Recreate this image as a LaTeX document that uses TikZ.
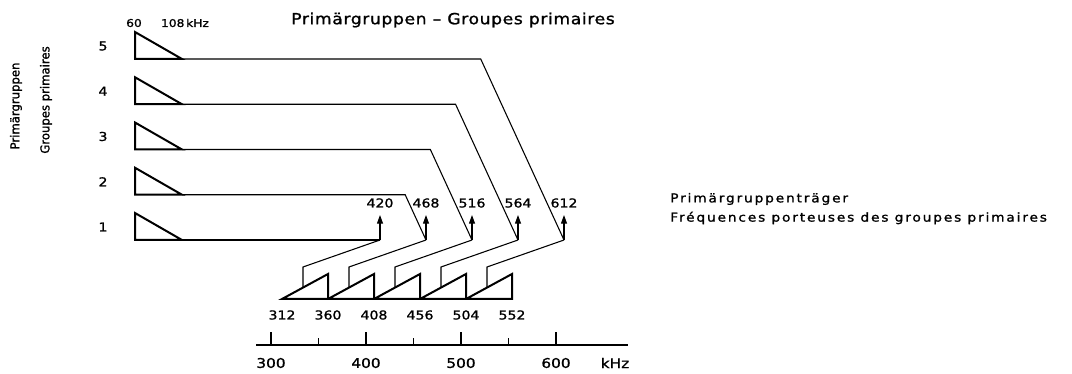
\documentclass[tikz,border=0pt]{standalone}
\usepackage{fontspec}
\setmainfont[FakeStretch=1.15,FakeBold=1.2]{DejaVu Sans}
\newfontfamily\notefont[FakeStretch=1.12,LetterSpace=15,FakeBold=1.2]{DejaVu Sans}
\newfontfamily\headfont[FakeStretch=1.12,LetterSpace=4,FakeBold=1.2]{DejaVu Sans}
\newfontfamily\sidefont[FakeStretch=0.95,FakeBold=1.2]{DejaVu Sans}
\usetikzlibrary{arrows.meta,calc}
\begin{document}
\begin{tikzpicture}[x=0.75pt,y=-0.75pt,
  band/.style={line width=1.5pt,line join=miter},
  conn/.style={line width=0.8pt},
  axisline/.style={line width=1.1pt},
  lbl/.style={inner sep=0pt,font=\fontsize{9.2pt}{11pt}\selectfont},
  axlbl/.style={inner sep=0pt,font=\fontsize{10pt}{12pt}\selectfont},
  small/.style={inner sep=0pt,font=\fontsize{8pt}{10pt}\selectfont},
  side/.style={inner sep=0pt,rotate=90,font=\sidefont\fontsize{9.2pt}{11pt}\selectfont},
  note/.style={inner sep=0pt,anchor=west,font=\notefont\fontsize{9.2pt}{11pt}\selectfont},
  title/.style={inner sep=0pt,font=\headfont\fontsize{11.5pt}{13pt}\selectfont},
  carrier/.style={conn,-{Triangle[length=6.5pt,width=4.5pt]}}]
\useasboundingbox (0,0) rectangle (1072,374);

% headings
\node[title] (head) at (453,20) {Primärgruppen – Groupes primaires};
\node[small] (f60) at (134,23) {60};
\node[small] (f108) at (185,23) {108\,kHz};
\node[side] (vl1) at (16,106) {Primärgruppen};
\node[side] (vl2) at (46,100) {Groupes primaires};
\node[note] (r1) at (670,199) {Primärgruppenträger};
\node[note] (r2) at (670,218) {Fréquences porteuses des groupes primaires};

% primary groups, carriers and modulated bands
\foreach \i in {1,...,5} {
  \pgfmathsetmacro\yb{240-45.25*(\i-1)}
  \pgfmathsetmacro\xa{380+46*(\i-1)}
  \pgfmathsetmacro\xs{282+46*(\i-1)}
  \pgfmathtruncatemacro\fc{420+48*(\i-1)}
  % group triangle
  \coordinate (gt\i) at (135,\yb-27);
  \coordinate (gl\i) at (135,\yb);
  \coordinate (gb\i) at (182,\yb);
  \draw[band] (gt\i) -- (gl\i) -- (gb\i) -- cycle;
  \node[lbl] (n\i) at (103,\yb-13) {\i};
  % carrier
  \coordinate (k\i) at ({\xa-0.46*(240-\yb)},\yb);
  \coordinate (c\i) at (\xa,240);
  \coordinate (t\i) at (\xa,215);
  \draw[conn] (gb\i) -- (k\i) -- (c\i);
  \draw[carrier] (c\i) -- (t\i);
  \node[lbl] (fc\i) at (\xa,203) {\fc};
  % modulated band
  \coordinate (s\i) at (\xs,299);
  \coordinate (h\i) at (\xs+46,274);
  \coordinate (e\i) at (\xs+46,299);
  \coordinate (m\i) at (\xa-77,267);
  \draw[band] (s\i) -- (h\i) -- (e\i) -- cycle;
  \draw[conn] (c\i) -- (m\i) -- ($(s\i)!21/46!(h\i)$);
}

% band edge frequencies
\foreach \j in {0,...,5} {
  \pgfmathtruncatemacro\fb{312+48*\j}
  \node[lbl] (b\j) at (282+46*\j,315) {\fb};
}

% frequency axis
\coordinate (ax0) at (256,345);
\coordinate (ax1) at (628,345);
\draw[axisline] (ax0) -- (ax1);
\foreach \k/\v in {0/300,1/400,2/500,3/600} {
  \draw[axisline] (271+95*\k,345) -- (271+95*\k,332);
  \node[axlbl] (a\v) at (271+95*\k,363) {\v};
}
\foreach \k in {0,1,2} {
  \draw[axisline] (318.5+95*\k,345) -- (318.5+95*\k,338);
}
\node[axlbl] (khz) at (615,363) {kHz};
\end{tikzpicture}
\end{document}
